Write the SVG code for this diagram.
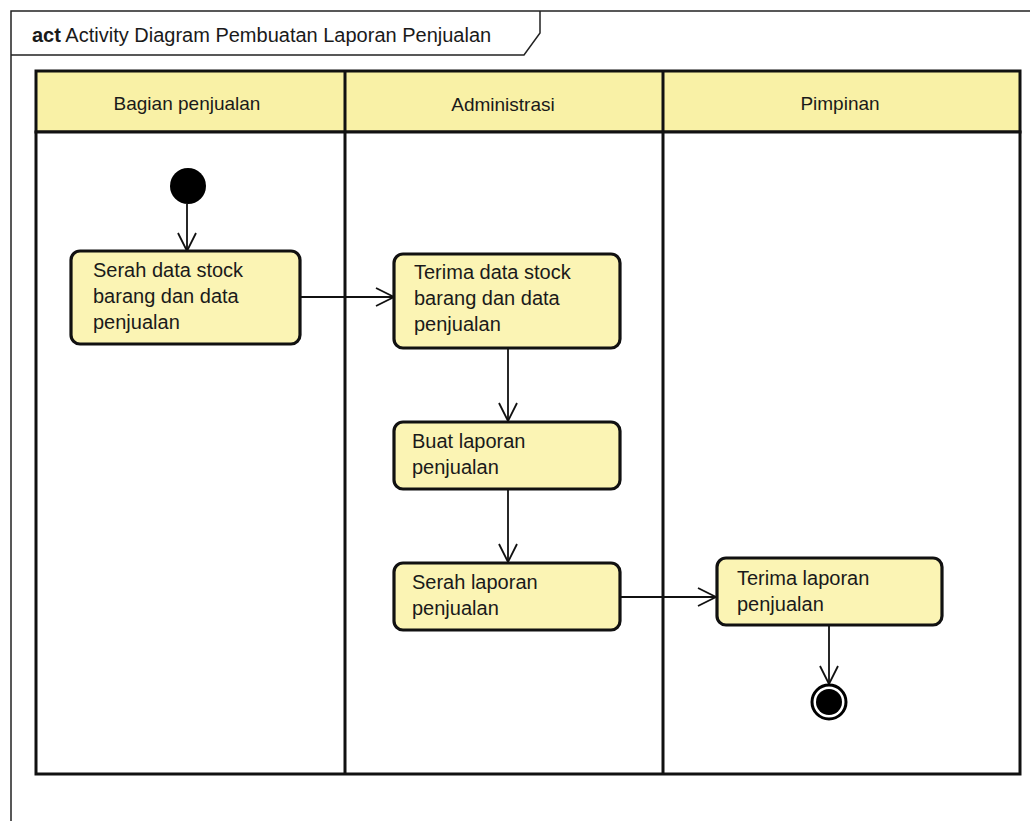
<svg xmlns="http://www.w3.org/2000/svg" width="1030" height="821" viewBox="0 0 1030 821">
<defs>
<style>
text{font-family:"Liberation Sans",Arial,sans-serif;fill:#1a1a1a}
.act{fill:#fbf4b4;stroke:#111;stroke-width:3.2}
.hdr{fill:#f9f1a6;stroke:#111;stroke-width:3}
.lane{fill:#fff;stroke:#111;stroke-width:3}
.lbl{font-size:20px}
.h{font-size:19px;text-anchor:middle}
.conn{stroke:#111;stroke-width:1.8;fill:none;marker-end:url(#arr)}
</style>
<marker id="arr" viewBox="0 0 20 20" refX="19" refY="10" markerWidth="20" markerHeight="20" markerUnits="userSpaceOnUse" orient="auto">
<path d="M1,1 L19,10 L1,19" fill="none" stroke="#111" stroke-width="1.8"/>
</marker>
</defs>
<rect width="1030" height="821" fill="#fff"/>
<g id="frame">
<path d="M11,821 L11,11 L1030,11" fill="none" stroke="#222" stroke-width="1.5"/>
<path d="M11,55 L524,55 L540,33 L540,11" fill="none" stroke="#222" stroke-width="1.5"/>
<text x="32" y="42" font-size="20"><tspan font-weight="bold">act</tspan> Activity Diagram Pembuatan Laporan Penjualan</text>
</g>
<g id="lanes">
<rect class="hdr" x="36" y="71" width="984" height="61"/>
<rect class="lane" x="36" y="132" width="984" height="642"/>
<line x1="345" y1="71" x2="345" y2="775" stroke="#111" stroke-width="3"/>
<line x1="663" y1="71" x2="663" y2="775" stroke="#111" stroke-width="3"/>
<text class="h" x="187" y="110">Bagian penjualan</text>
<text class="h" x="503" y="111">Administrasi</text>
<text class="h" x="840" y="110">Pimpinan</text>
</g>
<g id="connectors">
<line class="conn" x1="187" y1="204" x2="187" y2="251"/>
<line class="conn" x1="300" y1="297" x2="394" y2="297"/>
<line class="conn" x1="508" y1="348" x2="508" y2="421"/>
<line class="conn" x1="508" y1="489" x2="508" y2="562"/>
<line class="conn" x1="620" y1="597" x2="716" y2="597"/>
<line class="conn" x1="829" y1="625" x2="829" y2="684"/>
</g>
<g id="start"><circle cx="188" cy="186" r="18" fill="#000"/></g>
<g id="n1">
<rect class="act" x="71" y="251" width="229" height="93" rx="9"/>
<text class="lbl" x="93" y="277">Serah data stock</text>
<text class="lbl" x="93" y="303">barang dan data</text>
<text class="lbl" x="93" y="329">penjualan</text>
</g>
<g id="n2">
<rect class="act" x="394" y="254" width="226" height="94" rx="9"/>
<text class="lbl" x="414" y="279">Terima data stock</text>
<text class="lbl" x="414" y="305">barang dan data</text>
<text class="lbl" x="414" y="331">penjualan</text>
</g>
<g id="n3">
<rect class="act" x="394" y="422" width="226" height="67" rx="9"/>
<text class="lbl" x="412" y="448">Buat laporan</text>
<text class="lbl" x="412" y="474">penjualan</text>
</g>
<g id="n4">
<rect class="act" x="394" y="563" width="226" height="67" rx="9"/>
<text class="lbl" x="412" y="589">Serah laporan</text>
<text class="lbl" x="412" y="615">penjualan</text>
</g>
<g id="n5">
<rect class="act" x="717" y="558" width="225" height="67" rx="9"/>
<text class="lbl" x="737" y="585">Terima laporan</text>
<text class="lbl" x="737" y="611">penjualan</text>
</g>
<g id="end">
<circle cx="829" cy="702" r="17" fill="#fff" stroke="#000" stroke-width="3"/>
<circle cx="829" cy="702" r="13" fill="#000"/>
</g>
</svg>
